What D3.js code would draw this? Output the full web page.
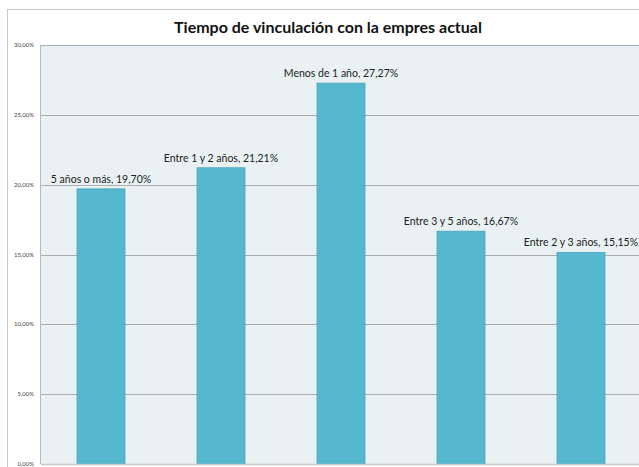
<!DOCTYPE html>
<meta charset="utf-8">
<title>Tiempo de vinculación con la empresa actual</title>
<script src="https://d3js.org/d3.v7.min.js"></script>
<body style="margin:0; background:#fff;">
<div id="chart"></div>
</body>
<script>
categories = ["5 años o más", "Entre 1 y 2 años", "Menos de 1 año", "Entre 3 y 5 años", "Entre 2 y 3 años"]
values = [19.70, 21.21, 27.27, 16.67, 15.15]
ticks = [0, 5, 10, 15, 20, 25, 30]

width = 639
height = 467
margin = {top: 45, left: 41, bottom: 3}
fmt = v => d3.format(".2f")(v).replace(".", ",") + "%"

svg = d3.select("#chart").append("svg")
    .attr("width", width)
    .attr("height", height)
    .style("font-family", "Lato, sans-serif")

// outer chart frame
svg.append("rect")
    .attr("x", 7.5).attr("y", 9.5)
    .attr("width", 640).attr("height", 470)
    .attr("fill", "#fff").attr("stroke", "#c8c8c8")

svg.append("text")
    .attr("x", 328).attr("y", 33)
    .attr("text-anchor", "middle")
    .attr("font-size", 16).attr("font-weight", "bold")
    .attr("fill", "#111")
    .text("Tiempo de vinculación con la empres actual")

x = d3.scaleBand()
    .domain(categories)
    .range([margin.left, margin.left + 600])
    .paddingInner(0.6).paddingOuter(0.3)

y = d3.scaleLinear()
    .domain([0, 30])
    .range([height - margin.bottom, margin.top])

svg.append("rect")
    .attr("x", margin.left).attr("y", y(30))
    .attr("width", width - margin.left).attr("height", y(0) - y(30))
    .attr("fill", "#e9f1f3")

svg.append("g")
    .selectAll("line")
    .data(ticks.slice(1))
    .join("line")
    .attr("x1", margin.left).attr("x2", width)
    .attr("y1", d => Math.round(y(d)) + 0.5).attr("y2", d => Math.round(y(d)) + 0.5)
    .attr("stroke", "#a9aeb2")

svg.append("line")
    .attr("x1", margin.left - 0.5).attr("x2", margin.left - 0.5)
    .attr("y1", y(30)).attr("y2", y(0))
    .attr("stroke", "#b5b9bc")

svg.append("g")
    .selectAll("text")
    .data(ticks)
    .join("text")
    .attr("x", 34).attr("y", d => y(d) + 2)
    .attr("text-anchor", "end")
    .attr("font-size", 6)
    .attr("fill", "#444")
    .text(d => fmt(d))

svg.append("g")
    .selectAll("rect")
    .data(values)
    .join("rect")
    .attr("x", (d, i) => x(categories[i]))
    .attr("y", d => y(d))
    .attr("width", x.bandwidth())
    .attr("height", d => y(0) - y(d))
    .attr("fill", "#56b8cf")
    .attr("stroke", "#4aa6bd")
    .attr("stroke-width", 0.8)

svg.append("line")
    .attr("x1", margin.left).attr("x2", width)
    .attr("y1", y(0) + 0.5).attr("y2", y(0) + 0.5)
    .attr("stroke", "#c8cacc").attr("stroke-width", 1.5)

svg.append("g")
    .selectAll("text")
    .data(values)
    .join("text")
    .attr("x", (d, i) => x(categories[i]) + x.bandwidth() / 2)
    .attr("y", d => y(d) - 6)
    .attr("text-anchor", "middle")
    .attr("font-size", 10.5)
    .attr("fill", "#222")
    .text((d, i) => categories[i] + ", " + fmt(d))
</script>
